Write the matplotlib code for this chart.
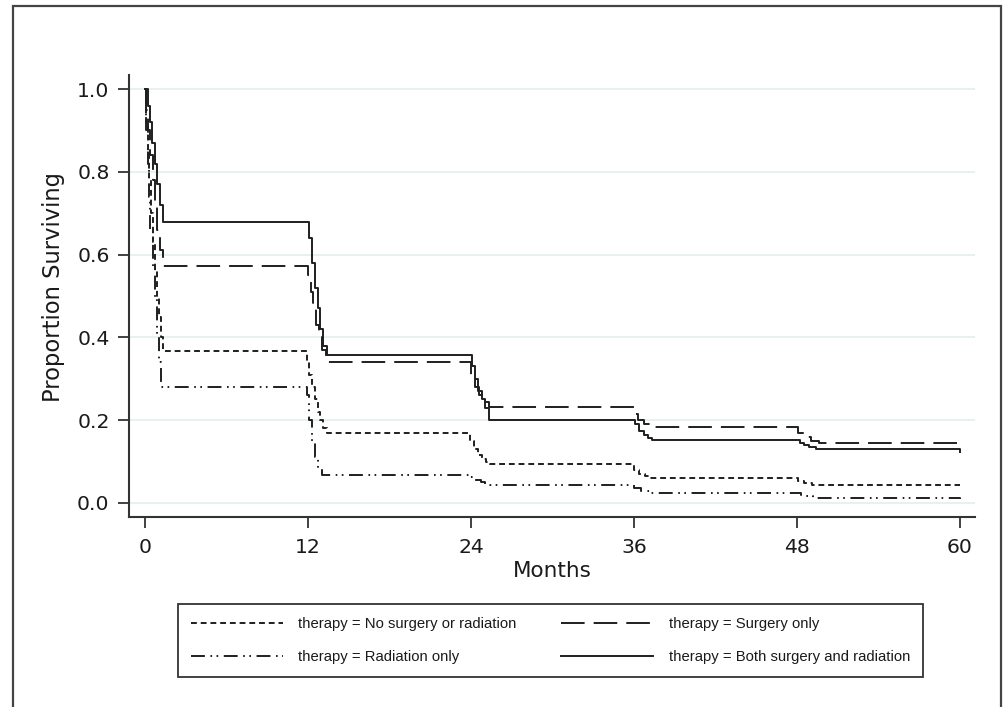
import matplotlib
matplotlib.use("Agg")
import matplotlib.pyplot as plt
from matplotlib.lines import Line2D
from matplotlib.patches import Rectangle
from matplotlib import font_manager

# ---------------- data ----------------
months_ticks = [0, 12, 24, 36, 48, 60]
surv_ticks = [0.0, 0.2, 0.4, 0.6, 0.8, 1.0]
surv_tick_labels = ["0.0", "0.2", "0.4", "0.6", "0.8", "1.0"]

labels = ["therapy = No surgery or radiation", "therapy = Surgery only",
          "therapy = Radiation only", "therapy = Both surgery and radiation"]

none_t = [0, 0.1, 0.2, 0.3, 0.45, 0.6, 0.75, 0.9, 1.05, 1.2, 1.35,
          11.9, 12.1, 12.3, 12.5, 12.7, 12.9, 13.1, 13.4,
          23.9, 24.2, 24.5, 24.8, 25.1, 25.4,
          36.0, 36.4, 36.8, 37.2,
          48.1, 48.5, 49.1, 60.0]
none_s = [1.0, 0.92, 0.85, 0.78, 0.70, 0.63, 0.56, 0.50, 0.45, 0.40, 0.367,
          0.34, 0.31, 0.28, 0.25, 0.22, 0.20, 0.18, 0.168,
          0.15, 0.13, 0.115, 0.105, 0.098, 0.094,
          0.08, 0.07, 0.064, 0.06,
          0.053, 0.048, 0.043, 0.043]

surg_t = [0, 0.1, 0.25, 0.4, 0.55, 0.7, 0.9, 1.1, 1.3,
          12.0, 12.2, 12.4, 12.6, 12.8, 13.0, 13.3,
          24.0, 24.3, 24.6, 24.9, 25.3,
          36.0, 36.3, 36.7, 37.2,
          48.1, 48.5, 49.0, 49.6, 60.0]
surg_s = [1.0, 0.95, 0.90, 0.84, 0.78, 0.72, 0.66, 0.61, 0.573,
          0.55, 0.51, 0.47, 0.43, 0.40, 0.37, 0.341,
          0.31, 0.28, 0.26, 0.245, 0.232,
          0.215, 0.20, 0.19, 0.184,
          0.17, 0.16, 0.15, 0.145, 0.14]

rad_t = [0, 0.1, 0.2, 0.3, 0.4, 0.55, 0.7, 0.85, 1.0, 1.2,
         11.9, 12.1, 12.3, 12.5, 12.7, 13.0,
         23.9, 24.3, 24.7, 25.0, 25.4,
         36.0, 36.5, 37.2,
         48.3, 48.7, 49.2, 60.0]
rad_s = [1.0, 0.90, 0.82, 0.74, 0.66, 0.57, 0.49, 0.41, 0.34, 0.28,
         0.26, 0.20, 0.15, 0.11, 0.085, 0.068,
         0.062, 0.055, 0.05, 0.046, 0.043,
         0.035, 0.028, 0.024,
         0.02, 0.016, 0.012, 0.01]

both_t = [0, 0.2, 0.35, 0.5, 0.7, 0.9, 1.1, 1.3,
          12.1, 12.3, 12.5, 12.7, 12.9, 13.1, 13.4,
          24.1, 24.3, 24.5, 24.8, 25.0, 25.3,
          36.1, 36.4, 36.7, 37.0, 37.3,
          48.2, 48.5, 48.9, 49.4, 60.0]
both_s = [1.0, 0.96, 0.92, 0.87, 0.82, 0.77, 0.72, 0.68,
          0.64, 0.58, 0.52, 0.47, 0.42, 0.38, 0.357,
          0.33, 0.30, 0.27, 0.25, 0.23, 0.20,
          0.19, 0.175, 0.165, 0.158, 0.152,
          0.145, 0.14, 0.135, 0.13, 0.123]

# ---------------- style ----------------
plt.rcParams['lines.scale_dashes'] = False
avail = {f.name for f in font_manager.fontManager.ttflist}
leg_font = "Liberation Sans" if "Liberation Sans" in avail else "DejaVu Sans"
plt.rcParams['font.family'] = ["DejaVu Sans"]

W, H = 1007, 707
fig = plt.figure(figsize=(W / 100, H / 100), dpi=100)
ax = fig.add_axes([129 / W, 1 - 517 / H, (975 - 129) / W, (517 - 75) / H])

ink = "#1f1f1f"
lw = 1.4
styles = {
    "none": dict(dashes=(4.2, 2.8)),
    "surg": dict(dashes=(17, 6.5)),
    "rad": dict(dashes=(10, 4, 1.2, 3.2, 1.2, 4)),
    "both": dict(linestyle="-"),
}

ax.plot(none_t, none_s, drawstyle="steps-post", color=ink, lw=lw, **styles["none"])
ax.plot(surg_t, surg_s, drawstyle="steps-post", color=ink, lw=lw, **styles["surg"])
ax.plot(rad_t, rad_s, drawstyle="steps-post", color=ink, lw=lw, **styles["rad"])
ax.plot(both_t, both_s, drawstyle="steps-post", color=ink, lw=lw, **styles["both"])

ax.set_xlim(-1.18, 61.1)
ax.set_ylim(-0.034, 1.034)
ax.set_xticks(months_ticks)
ax.set_yticks(surv_ticks)
ax.set_yticklabels(surv_tick_labels)
ax.grid(axis="y", color="#e3eff0", lw=1.2)
ax.set_axisbelow(True)
for s in ("top", "right"):
    ax.spines[s].set_visible(False)
for s in ("left", "bottom"):
    ax.spines[s].set_color("#333333")
    ax.spines[s].set_linewidth(1.5)
ax.tick_params(axis="both", colors="#333333", labelcolor="#1a1a1a",
               labelsize=14.7, length=8, width=1.3)
ax.tick_params(axis="x", pad=7)
ax.tick_params(axis="y", pad=6)
ax.set_xlabel("Months", fontsize=15.5, color="#1a1a1a", labelpad=3)
ax.set_ylabel("Proportion Surviving", fontsize=16.3, color="#1a1a1a", labelpad=9)
ax.yaxis.label.set_y(0.52)

# legend (column-major ordering so rows read as in the reference)
h_none = Line2D([], [], color=ink, lw=lw, **styles["none"])
h_surg = Line2D([], [], color=ink, lw=lw, **styles["surg"])
h_rad = Line2D([], [], color=ink, lw=lw, **styles["rad"])
h_both = Line2D([], [], color=ink, lw=lw, **styles["both"])
leg = fig.legend([h_none, h_rad, h_surg, h_both],
                 [labels[0], labels[2], labels[1], labels[3]],
                 ncol=2, mode="expand", loc="lower left",
                 bbox_to_anchor=(178 / W, 1 - 677 / H, (923 - 178) / W, (677 - 598) / H),
                 prop={"family": leg_font, "size": 10.7},
                 handlelength=6.2, handletextpad=1.05, labelspacing=1.3,
                 borderpad=0.85, borderaxespad=0.0, fancybox=False,
                 frameon=True, edgecolor="#333333", framealpha=1)
leg.get_frame().set_linewidth(1.3)
for t in leg.get_texts():
    t.set_color("#1a1a1a")

# outer frame
fig.patches.append(Rectangle((13 / W, -0.05), (1001 - 13) / W, (H - 6) / H + 0.05,
                             transform=fig.transFigure, fill=False,
                             edgecolor="#444444", lw=1.6, clip_on=False))

fig.savefig("out.png", dpi=100)
